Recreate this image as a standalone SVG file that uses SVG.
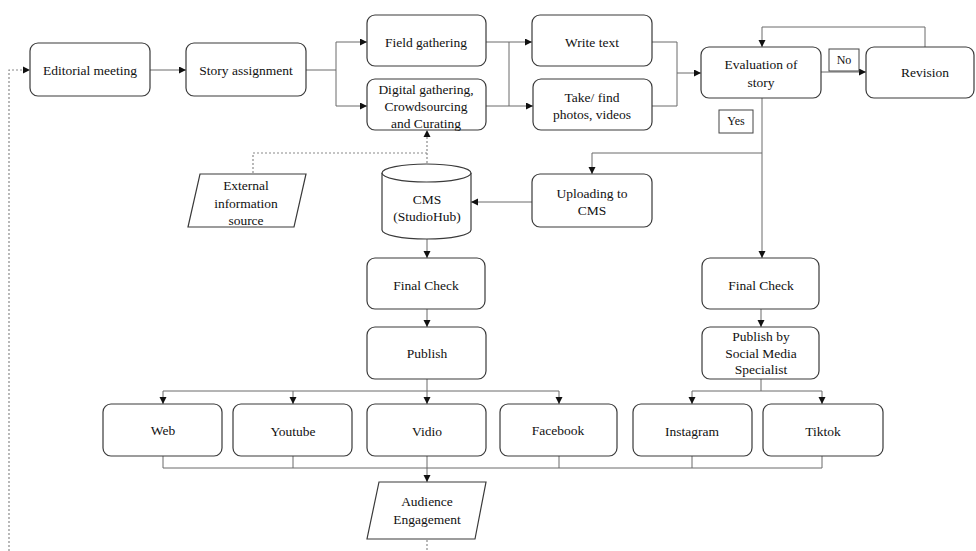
<svg xmlns="http://www.w3.org/2000/svg" width="976" height="551" viewBox="0 0 976 551">
<style>
.box{fill:#fff;stroke:#3a3a3a;stroke-width:1.2}
.t{font-family:"Liberation Serif","Times New Roman",serif;font-size:13.5px;fill:#111;text-anchor:middle;dominant-baseline:central}
.ln{fill:none;stroke:#6a6a6a;stroke-width:1}
.ar{fill:none;stroke:#6a6a6a;stroke-width:1;marker-end:url(#ah)}
.dt{fill:none;stroke:#8a8a8a;stroke-width:1.2;stroke-dasharray:2 2}
.lbl{fill:#fff;stroke:#444;stroke-width:1}
</style>
<defs>
<marker id="ah" markerWidth="8" markerHeight="8" refX="7" refY="3.5" orient="auto" markerUnits="userSpaceOnUse">
<path d="M0,0 L7,3.5 L0,7 Z" fill="#111"/>
</marker>
</defs>
<rect width="976" height="551" fill="#fff"/>

<g id="connectors">
<path class="dt" d="M9,551 V70 H23" />
<path d="M23,66.5 L30,70 L23,73.5 Z" fill="#111"/>
<path class="ar" d="M150,70 H186"/>
<path class="ln" d="M306,70 H336 M336,42 V106"/>
<path class="ar" d="M336,42 H367"/>
<path class="ar" d="M336,106 H367"/>
<path class="ar" d="M486,42 H532"/>
<path class="ln" d="M509,42 V106"/>
<path class="ar" d="M486,106 H533"/>
<path class="ln" d="M652,42 H677 V106 H652"/>
<path class="ar" d="M677,73 H701"/>
<path class="ar" d="M821,72 H866"/>
<path class="ar" d="M925,47 V27 H762 V47"/>
<path class="ar" d="M762,98 V258"/>
<path class="ar" d="M762,153 H592 V174"/>
<path class="ar" d="M532,202 H471"/>
<path class="dt" d="M427,163 V137"/>
<path d="M423.5,137 L427,130 L430.5,137 Z" fill="#111"/>
<path class="dt" d="M427,153 H253 V174"/>
<path class="ar" d="M427,239 V258"/>
<path class="ar" d="M427,309 V327"/>
<path class="ln" d="M427,379 V391 M163,391 H559"/>
<path class="ar" d="M163,391 V404"/>
<path class="ar" d="M293,391 V404"/>
<path class="ar" d="M427,391 V404"/>
<path class="ar" d="M559,391 V404"/>
<path class="ar" d="M761,309 V327"/>
<path class="ln" d="M761,379 V391 M692,391 H822"/>
<path class="ar" d="M692,391 V404"/>
<path class="ar" d="M822,391 V404"/>
<path class="ln" d="M163,456 V468 M293,456 V468 M427,456 V468 M559,456 V468 M692,456 V468 M822,456 V468 M163,468 H822"/>
<path class="ar" d="M427,468 V482"/>
<path class="dt" d="M427,540 V551"/>
</g>

<g id="label-no"><rect class="lbl" x="829" y="49" width="30" height="22"/><text class="t" x="844" y="60" style="font-size:12px">No</text></g>
<g id="label-yes"><rect class="lbl" x="719" y="110" width="34" height="23"/><text class="t" x="736" y="121" style="font-size:12px">Yes</text></g>

<g id="editorial"><rect class="box" x="30" y="43" width="120" height="53" rx="8"/><text class="t" x="90" y="70">Editorial meeting</text></g>
<g id="story"><rect class="box" x="186" y="43" width="120" height="53" rx="8"/><text class="t" x="246" y="70">Story assignment</text></g>
<g id="field"><rect class="box" x="367" y="15" width="119" height="51" rx="8"/><text class="t" x="426" y="42">Field gathering</text></g>
<g id="digital"><rect class="box" x="367" y="79" width="119" height="51" rx="8"/><text class="t" x="426" y="89">Digital gathering,</text><text class="t" x="426" y="106">Crowdsourcing</text><text class="t" x="426" y="123">and Curating</text></g>
<g id="write"><rect class="box" x="532" y="15" width="120" height="51" rx="8"/><text class="t" x="592" y="42">Write text</text></g>
<g id="take"><rect class="box" x="533" y="79" width="119" height="51" rx="8"/><text class="t" x="592" y="97">Take/ find</text><text class="t" x="592" y="114">photos, videos</text></g>
<g id="evaluation"><rect class="box" x="701" y="47" width="120" height="51" rx="8"/><text class="t" x="761" y="64">Evaluation of</text><text class="t" x="761" y="82">story</text></g>
<g id="revision"><rect class="box" x="866" y="47" width="108" height="51" rx="8"/><text class="t" x="925" y="72">Revision</text></g>
<g id="uploading"><rect class="box" x="532" y="174" width="120" height="53" rx="8"/><text class="t" x="592" y="193">Uploading to</text><text class="t" x="592" y="210">CMS</text></g>
<g id="cms">
<path class="box" d="M382,173 V230 A44.5,9 0 0 0 471,230 V173"/>
<ellipse class="box" cx="426.5" cy="173" rx="44.5" ry="9"/>
<text class="t" x="427" y="199">CMS</text><text class="t" x="427" y="216">(StudioHub)</text>
</g>
<g id="external"><path class="box" d="M200,174 H306 L294,227 H188 Z"/><text class="t" x="246" y="185">External</text><text class="t" x="246" y="203">information</text><text class="t" x="246" y="220">source</text></g>
<g id="final1"><rect class="box" x="367" y="258" width="118" height="51" rx="8"/><text class="t" x="426" y="285">Final Check</text></g>
<g id="final2"><rect class="box" x="702" y="258" width="117" height="51" rx="8"/><text class="t" x="761" y="285">Final Check</text></g>
<g id="publish"><rect class="box" x="367" y="327" width="119" height="52" rx="8"/><text class="t" x="427" y="353">Publish</text></g>
<g id="publish-sms"><rect class="box" x="702" y="327" width="117" height="52" rx="8"/><text class="t" x="761" y="336">Publish by</text><text class="t" x="761" y="353">Social Media</text><text class="t" x="761" y="369">Specialist</text></g>
<g id="web"><rect class="box" x="103" y="404" width="119" height="52" rx="8"/><text class="t" x="163" y="430">Web</text></g>
<g id="youtube"><rect class="box" x="233" y="404" width="119" height="52" rx="8"/><text class="t" x="293" y="431">Youtube</text></g>
<g id="vidio"><rect class="box" x="367" y="404" width="119" height="52" rx="8"/><text class="t" x="427" y="431">Vidio</text></g>
<g id="facebook"><rect class="box" x="500" y="404" width="117" height="52" rx="8"/><text class="t" x="558" y="430">Facebook</text></g>
<g id="instagram"><rect class="box" x="633" y="404" width="119" height="52" rx="8"/><text class="t" x="692" y="431">Instagram</text></g>
<g id="tiktok"><rect class="box" x="763" y="404" width="120" height="52" rx="8"/><text class="t" x="823" y="431">Tiktok</text></g>
<g id="audience"><path class="box" d="M379,482 H486 L475,539 H367 Z"/><text class="t" x="427" y="501">Audience</text><text class="t" x="427" y="519">Engagement</text></g>
</svg>
